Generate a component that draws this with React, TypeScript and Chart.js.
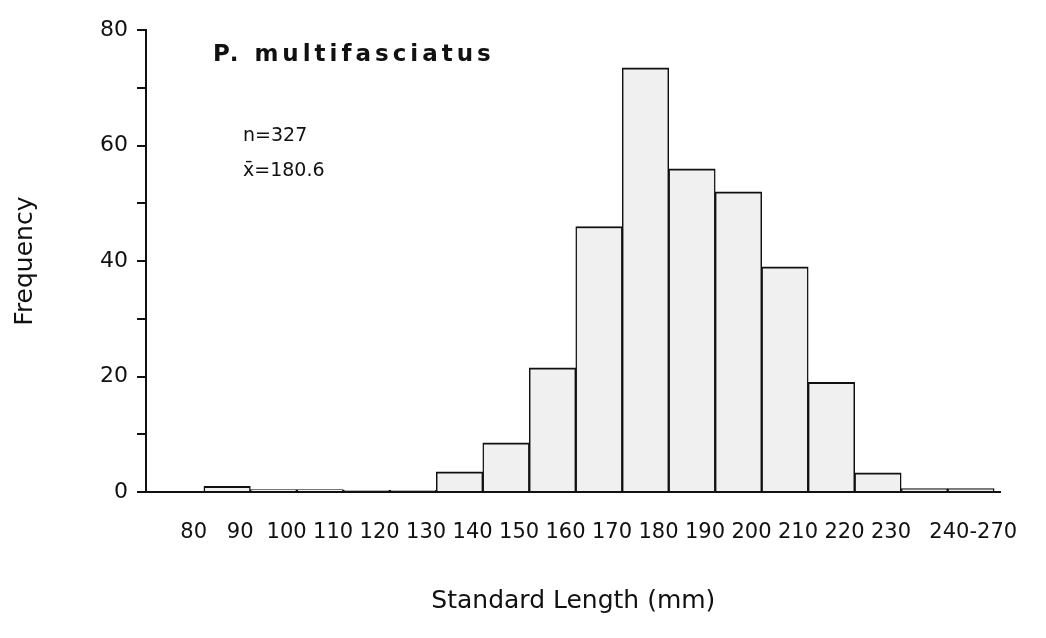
import React, { useEffect, useRef } from 'react';
import { Chart, registerables } from 'chart.js';

Chart.register(...registerables);

// Size classes (mm) and counts
const categories = ['80', '90', '100', '110', '120', '130', '140', '150', '160', '170', '180', '190', '200', '210', '220', '230', '240-270'];
const counts = [1, 0.4, 0.4, 0.3, 0.3, 3.5, 8.5, 21.5, 46, 73.5, 56, 52, 39, 19, 3.3, 0.6, 0.6];

const yLabelStep = 20;
const yMinorStep = 10;
const yMax = 80;

const speciesName = 'P. multifasciatus';
const sampleSize = 'n=327';
const meanLength = 'x\u0304=180.6';
const xTitle = 'Standard Length (mm)';
const yTitle = 'Frequency';

const FONT = "'DejaVu Sans', 'Liberation Sans', sans-serif";
const INK = '#111111';

export default function App() {
  const canvasRef = useRef<HTMLCanvasElement>(null);

  useEffect(() => {
    const canvas = canvasRef.current;
    if (!canvas) return;

    const annotations = {
      id: 'annotations',
      afterDatasetsDraw(chart: any) {
        const { ctx, chartArea } = chart;
        ctx.save();
        ctx.fillStyle = INK;
        ctx.textAlign = 'left';
        ctx.textBaseline = 'middle';
        ctx.font = `bold 23px ${FONT}`;
        (ctx as any).letterSpacing = '4px';
        ctx.fillText(speciesName, chartArea.left + 67, chartArea.top + 25);
        ctx.font = `19px ${FONT}`;
        (ctx as any).letterSpacing = '0px';
        ctx.fillText(sampleSize, chartArea.left + 97, chartArea.top + 106);
        ctx.fillText(meanLength, chartArea.left + 97, chartArea.top + 141);
        ctx.restore();
      },
    };

    const chart = new Chart(canvas, {
      type: 'bar',
      data: {
        datasets: [
          {
            data: counts.map((y, i) => ({ x: i, y })),
            backgroundColor: '#f0f0f0',
            borderColor: INK,
            borderWidth: { top: 2, left: 1.5, right: 1.5, bottom: 0 },
            barPercentage: 1,
            categoryPercentage: 1,
          } as any,
        ],
      },
      options: {
        responsive: true,
        maintainAspectRatio: false,
        animation: false,
        layout: { padding: { top: 14, right: 28, left: 0, bottom: 0 } },
        plugins: {
          legend: { display: false },
          tooltip: { enabled: false },
        },
        scales: {
          x: {
            type: 'linear',
            min: -1.745,
            max: 16.64,
            offset: false,
            z: 1,
            grid: { display: false },
            border: { display: true, color: INK, width: 2 },
            afterBuildTicks: (scale: any) => {
              // labels sit at each class's lower edge; the pooled last class is centred
              scale.ticks = categories.map((_, i) => ({
                value: i === categories.length - 1 ? i + 0.05 : i - 0.72,
              }));
            },
            ticks: {
              autoSkip: false,
              maxRotation: 0,
              minRotation: 0,
              padding: 20,
              color: INK,
              font: { family: FONT, size: 21 },
              callback: (_v: any, index: number) => categories[index] ?? '',
            },
            title: {
              display: true,
              text: xTitle,
              color: INK,
              font: { family: FONT, size: 25 },
              padding: { top: 0, bottom: 14 },
            },
            afterFit: (s: any) => {
              s.height = 138;
            },
          } as any,
          y: {
            min: 0,
            max: yMax,
            z: 1,
            grid: { drawOnChartArea: false, drawTicks: true, tickLength: 9, color: INK, lineWidth: 2 },
            border: { display: true, color: INK, width: 2 },
            ticks: {
              stepSize: yMinorStep,
              padding: 9,
              color: INK,
              font: { family: FONT, size: 22 },
              callback: (v: any) => (Number(v) % yLabelStep === 0 ? String(v) : ''),
            },
            title: {
              display: true,
              text: yTitle,
              color: INK,
              font: { family: FONT, size: 25 },
              padding: { top: 2, bottom: 0 },
            },
            afterFit: (s: any) => {
              s.width = 138;
            },
          } as any,
        },
      },
      plugins: [annotations],
    });

    return () => chart.destroy();
  }, []);

  return (
    <div style={{ position: 'relative', width: 1030, height: 622 }}>
      <canvas ref={canvasRef} />
    </div>
  );
}
